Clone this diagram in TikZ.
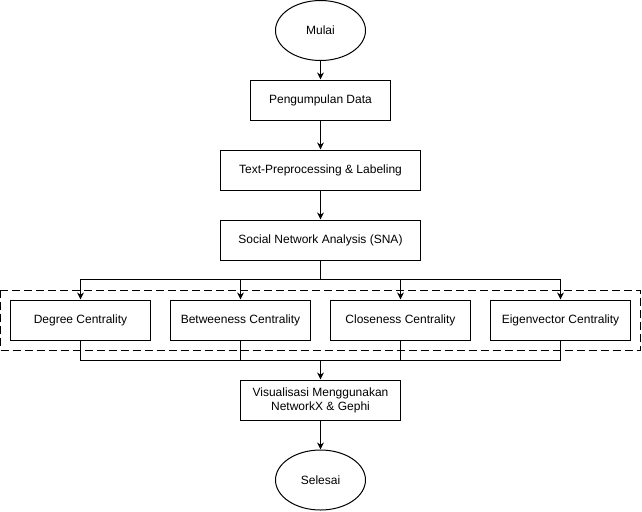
\documentclass[tikz,border=0pt]{standalone}
\usepackage{fontspec}
\setmainfont{Liberation Sans}
\usetikzlibrary{arrows.meta,shapes.geometric,positioning}
\tikzset{
  px/.style={x=0.75pt,y=-0.75pt},
  box/.style={draw,line width=0.75pt,rectangle,minimum width=#1*0.75pt,minimum height=30pt,inner sep=0pt,align=center,font=\fontsize{9pt}{10.5pt}\selectfont},
  oval/.style={draw,line width=0.75pt,ellipse,minimum width=67.5pt,minimum height=45pt,inner sep=0pt,font=\fontsize{9pt}{10.5pt}\selectfont},
  conn/.style={line width=0.75pt},
  arr/.style={line width=0.75pt,-{Stealth[length=5.2pt,width=5pt,inset=1.6pt]}},
  dbox/.style={draw,line width=0.75pt,dash pattern=on 6pt off 3pt}
}
\begin{document}
\begin{tikzpicture}[px]
\useasboundingbox (0,0) rectangle (642,511);
\draw[dbox] (0.5,290) rectangle (640,350);
\node[oval] (mulai) at (320.5,30.5) {Mulai};
\node[box=140] (peng) at (320.5,100) {Pengumpulan Data};
\node[box=200] (text) at (320.5,170) {Text-Preprocessing \& Labeling};
\node[box=200] (sna) at (320.5,240) {Social Network Analysis (SNA)};
\node[box=140] (deg) at (80.5,320) {Degree Centrality};
\node[box=140] (bet) at (240.5,320) {Betweeness Centrality};
\node[box=140] (clo) at (400.5,320) {Closeness Centrality};
\node[box=140] (eig) at (560.5,320) {Eigenvector Centrality};
\node[box=160] (vis) at (320.5,400) {Visualisasi Menggunakan\\NetworkX \& Gephi};
\node[oval] (sel) at (320.5,480) {Selesai};
\coordinate (split) at (320.5,280);
\coordinate (merge) at (320.5,360);
\draw[arr] (mulai) -- (peng);
\draw[arr] (peng) -- (text);
\draw[arr] (text) -- (sna);
\draw[conn] (sna) -- (split);
\foreach \n in {deg,bet,clo,eig}{
  \draw[arr] (sna.south) |- ([yshift=15pt]\n.north) -- (\n.north);
  \draw[conn] (\n.south) -- ([yshift=-15pt]\n.south) -| (merge);
}
\draw[arr] (merge) -- (vis);
\draw[arr] (vis) -- (sel);
\end{tikzpicture}
\end{document}
